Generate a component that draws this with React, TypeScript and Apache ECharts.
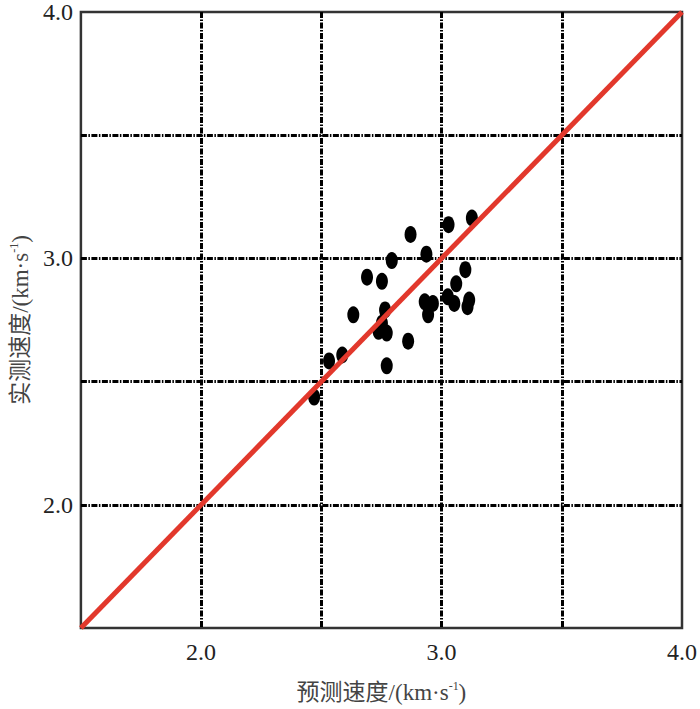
import React, { useEffect, useRef } from "react";
import * as echarts from "echarts";

const predicted: number[] = [
  2.871, 3.029, 3.126, 2.937, 2.793, 2.69, 2.752, 3.099, 3.061, 2.633,
  2.765, 2.752, 2.738, 2.772, 2.93, 2.964, 2.944, 3.026, 3.053, 3.115,
  3.108, 2.861, 2.772, 2.532, 2.587, 2.47,
];
const measured: number[] = [
  3.097, 3.137, 3.164, 3.017, 2.991, 2.924, 2.907, 2.954, 2.897, 2.771,
  2.791, 2.737, 2.704, 2.697, 2.824, 2.817, 2.771, 2.844, 2.817, 2.831,
  2.804, 2.664, 2.564, 2.584, 2.608, 2.437,
];
const lineX: number[] = [1.5, 4.0];
const lineY: number[] = [1.5, 4.0];
const tickLabels: string[] = ["2.0", "3.0", "4.0"];

const FONT = "Liberation Serif, Noto Sans CJK SC, serif";

export default function App() {
  const ref = useRef<HTMLDivElement>(null);
  useEffect(() => {
    if (!ref.current) return;
    const chart = echarts.init(ref.current, undefined, { renderer: "svg" });
    const fmt = (v: number) => {
      const s = v.toFixed(1);
      return tickLabels.includes(s) ? s : "";
    };
    const gridLine = {
      show: true,
      showMinLine: false,
      showMaxLine: false,
      lineStyle: { color: "#000", width: 3, type: [6, 1.5, 1.5, 1.5] as number[] },
    };
    const rich = {
      n: { fontFamily: FONT, fontSize: 23, color: "#444" },
      s: { fontFamily: FONT, fontSize: 12, color: "#444", padding: [0, 0, 13, 0] },
    };
    const scatterData = predicted.map((x, i) => [x, measured[i]]);
    chart.setOption({
      animation: false,
      backgroundColor: "#fff",
      textStyle: { fontFamily: FONT },
      grid: {
        left: 77.5,
        top: 6,
        width: 606,
        height: 625,
        show: true,
        borderColor: "#333",
        borderWidth: 2.5,
        backgroundColor: "transparent",
      },
      xAxis: {
        type: "value",
        min: 1.5,
        max: 4.0,
        interval: 0.5,
        axisLine: { show: false },
        axisTick: { show: false },
        splitLine: gridLine,
        axisLabel: {
          formatter: fmt,
          fontFamily: FONT,
          fontSize: 24,
          color: "#222",
          margin: 12,
          showMinLabel: true,
          showMaxLabel: true,
        },
        name: "{n|预测速度/(km·s}{s|-1}{n|)}",
        nameLocation: "middle",
        nameGap: 52,
        nameTextStyle: { fontFamily: FONT, rich },
      },
      yAxis: {
        type: "value",
        min: 1.5,
        max: 4.0,
        interval: 0.5,
        axisLine: { show: false },
        axisTick: { show: false },
        splitLine: gridLine,
        axisLabel: {
          formatter: fmt,
          fontFamily: FONT,
          fontSize: 24,
          color: "#222",
          margin: 8,
          showMinLabel: true,
          showMaxLabel: true,
        },
        name: "{n|实测速度/(km·s}{s|-1}{n|)}",
        nameLocation: "middle",
        nameGap: 47,
        nameTextStyle: { fontFamily: FONT, rich },
      },
      series: [
        {
          type: "scatter",
          data: scatterData,
          symbol: "circle",
          symbolSize: [12, 17],
          itemStyle: { color: "#000", opacity: 1 },
          z: 3,
        },
        {
          type: "line",
          data: lineX.map((x, i) => [x, lineY[i]]),
          showSymbol: false,
          symbol: "none",
          lineStyle: { color: "#e2382c", width: 5 },
          z: 4,
        },
      ],
    });
    return () => chart.dispose();
  }, []);
  return (
    <div
      ref={ref}
      style={{ position: "fixed", left: 0, top: 0, width: 700, height: 709, background: "#fff" }}
    />
  );
}
